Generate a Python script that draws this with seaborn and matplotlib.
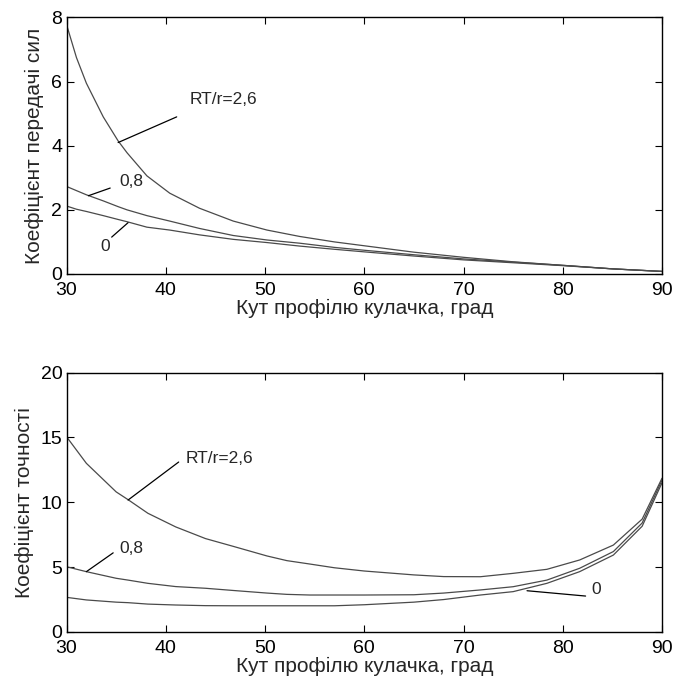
import numpy as np
import pandas as pd
import seaborn as sns
import matplotlib.pyplot as plt

# Values.
angles_top = [30, 31, 32, 33.7, 35.2, 36.1, 38.1, 40.4, 43.4, 46.8, 50.2, 53.5, 57, 60, 65, 70, 75, 80, 85, 90]
force_26 = [7.78, 6.75, 5.95, 4.9, 4.15, 3.78, 3.06, 2.52, 2.05, 1.65, 1.37, 1.17, 1.0, 0.88, 0.68, 0.52, 0.38, 0.27, 0.16, 0.08]
force_08 = [2.73, 2.6, 2.47, 2.28, 2.1, 2.0, 1.82, 1.65, 1.42, 1.2, 1.06, 0.96, 0.83, 0.74, 0.6, 0.47, 0.37, 0.27, 0.16, 0.08]
force_00 = [2.12, 2.02, 1.95, 1.82, 1.7, 1.63, 1.46, 1.37, 1.22, 1.08, 0.98, 0.87, 0.77, 0.69, 0.56, 0.44, 0.35, 0.26, 0.16, 0.08]

angles_bot = [30, 32, 35, 36.2, 38.2, 41, 44, 46.8, 50.2, 52.2, 54.5, 57, 60, 65, 68, 71.7, 75, 78.4, 81.7, 85.1, 88, 90]
acc_26 = [15.05, 13.0, 10.8, 10.2, 9.15, 8.1, 7.2, 6.6, 5.86, 5.5, 5.24, 4.95, 4.7, 4.4, 4.27, 4.26, 4.52, 4.83, 5.55, 6.7, 8.7, 11.85]
acc_08 = [5.03, 4.65, 4.14, 4.0, 3.75, 3.5, 3.37, 3.2, 3.0, 2.9, 2.85, 2.85, 2.85, 2.87, 3.0, 3.24, 3.49, 4.0, 4.91, 6.2, 8.4, 11.7]
acc_00 = [2.67, 2.47, 2.3, 2.26, 2.15, 2.08, 2.03, 2.02, 2.02, 2.02, 2.02, 2.02, 2.1, 2.3, 2.5, 2.85, 3.11, 3.75, 4.65, 5.93, 8.15, 11.5]

x_label = 'Кут профілю кулачка, град'
y_label_top = 'Коефіцієнт передачі сил'
y_label_bot = 'Коефіцієнт точності'

sns.set_style('ticks', {'xtick.direction': 'in', 'ytick.direction': 'in'})
plt.rcParams['font.family'] = ['Liberation Sans', 'DejaVu Sans']

fig = plt.figure(figsize=(6.74, 6.91), dpi=100)
ax1 = fig.add_axes([0.0987, 0.6035, 0.8835, 0.3712])
ax2 = fig.add_axes([0.0987, 0.0854, 0.8835, 0.3755])

line_color = '#4a4a4a'

for ys in (force_26, force_08, force_00):
    sns.lineplot(x=angles_top, y=ys, ax=ax1, color=line_color, linewidth=0.9)
for ys in (acc_26, acc_08, acc_00):
    sns.lineplot(x=angles_bot, y=ys, ax=ax2, color=line_color, linewidth=0.9)

for ax, ymax, yticks, ylab in ((ax1, 8, [0, 2, 4, 6, 8], y_label_top),
                                (ax2, 20, [0, 5, 10, 15, 20], y_label_bot)):
    ax.set_xlim(30, 90)
    ax.set_ylim(0, ymax)
    ax.set_xticks([30, 40, 50, 60, 70, 80, 90])
    ax.set_yticks(yticks)
    ax.tick_params(direction='in', length=5, width=0.8, labelsize=14,
                   top=True, right=True, pad=3, colors='black')
    ax.tick_params(axis='x', pad=6)
    for s in ax.spines.values():
        s.set_visible(True)
        s.set_linewidth(1.0)
        s.set_color('black')
    ax.set_xlabel(x_label, fontsize=15, labelpad=0)
    ax.set_ylabel(ylab, fontsize=15, labelpad=5)

ann = dict(fontsize=12.5, va='center')
lk = dict(color='black', linewidth=0.9)

# Top panel labels
ax1.plot([35.2, 41.1], [4.1, 4.9], **lk)
ax1.text(42.4, 5.44, 'RT/r=2,6', **ann)
ax1.plot([32.2, 34.4], [2.44, 2.68], **lk)
ax1.text(35.3, 2.88, '0,8', **ann)
ax1.plot([34.55, 36.2], [1.15, 1.6], **lk)
ax1.text(33.45, 0.85, '0', **ann)

# Bottom panel labels
ax2.plot([36.2, 41.3], [10.17, 13.1], **lk)
ax2.text(42.0, 13.4, 'RT/r=2,6', **ann)
ax2.plot([32.0, 34.7], [4.65, 6.1], **lk)
ax2.text(35.3, 6.45, '0,8', **ann)
ax2.plot([76.4, 82.3], [3.18, 2.77], **lk)
ax2.text(82.9, 3.29, '0', **ann)

fig.savefig('out.png', dpi=100)
